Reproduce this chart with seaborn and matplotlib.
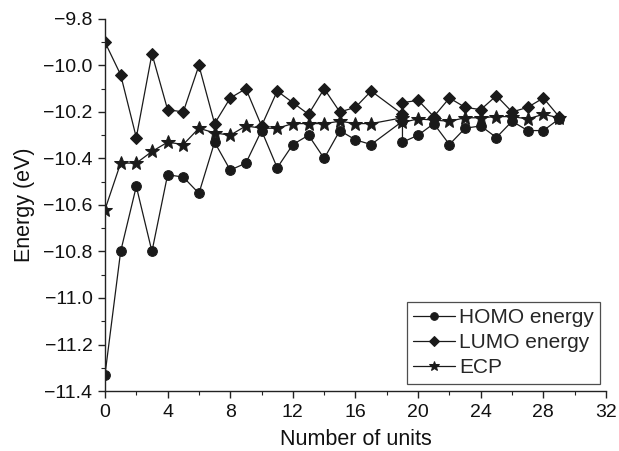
import matplotlib
matplotlib.use("Agg")
import matplotlib.pyplot as plt
import seaborn as sns
import pandas as pd
from matplotlib.ticker import MultipleLocator, FuncFormatter

units = [0, 1, 2, 3, 4, 5, 6, 7, 8, 9, 10, 11, 12, 13, 14, 15, 16, 17,
         19, 19, 20, 21, 22, 23, 24, 25, 26, 27, 28, 29]
homo = [-11.33, -10.80, -10.52, -10.80, -10.47, -10.48, -10.55, -10.33, -10.45, -10.42,
        -10.28, -10.44, -10.34, -10.30, -10.40, -10.28, -10.32, -10.34,
        -10.24, -10.33, -10.30, -10.25, -10.34, -10.27, -10.26, -10.31, -10.24, -10.28, -10.28, -10.23]
lumo = [-9.90, -10.04, -10.31, -9.95, -10.19, -10.20, -10.00, -10.25, -10.14, -10.10,
        -10.26, -10.11, -10.16, -10.21, -10.10, -10.20, -10.18, -10.11,
        -10.21, -10.16, -10.15, -10.22, -10.14, -10.18, -10.19, -10.13, -10.20, -10.18, -10.14, -10.22]
ecp = [-10.62, -10.42, -10.42, -10.37, -10.33, -10.34, -10.27, -10.29, -10.30, -10.26,
       -10.27, -10.27, -10.25, -10.25, -10.25, -10.24, -10.25, -10.25,
       -10.225, -10.245, -10.23, -10.235, -10.24, -10.225, -10.225, -10.22, -10.22, -10.23, -10.21, -10.225]

series_names = ["HOMO energy", "LUMO energy", "ECP"]
series_vals = [homo, lumo, ecp]
markers = ["o", "D", "*"]
msizes = [7, 6.5, 10]

sns.set_style("ticks")
plt.rcParams["font.family"] = ["Liberation Sans", "DejaVu Sans"]

fig = plt.figure(figsize=(6.19, 4.51), dpi=100)
ax = fig.add_axes([0.1696, 0.133, 0.979 - 0.1696, 0.958 - 0.133])

color = "#1a1a1a"
for name, vals, m, ms in zip(series_names, series_vals, markers, msizes):
    df = pd.DataFrame({"units": units, "energy": vals})
    sns.lineplot(data=df, x="units", y="energy", ax=ax, estimator=None, sort=False,
                 color=color, linewidth=0.9, marker=m, markersize=ms,
                 markeredgecolor=color, markerfacecolor=color, label=name)

ax.set_xlim(0, 32)
ax.set_ylim(-11.4, -9.8)
ax.xaxis.set_major_locator(MultipleLocator(4))
ax.xaxis.set_minor_locator(MultipleLocator(2))
ax.yaxis.set_major_locator(MultipleLocator(0.2))
ax.yaxis.set_minor_locator(MultipleLocator(0.1))
ax.yaxis.set_major_formatter(FuncFormatter(lambda v, p: f"{v:.1f}".replace("-", "\u2212")))
ax.tick_params(axis="both", which="major", direction="out", length=5, width=1,
               labelsize=14, color="#222222", labelcolor="#111111", pad=4)
ax.tick_params(axis="both", which="minor", direction="out", length=3, width=0.8,
               color="#222222")
for s in ["top", "right"]:
    ax.spines[s].set_visible(False)
for s in ["left", "bottom"]:
    ax.spines[s].set_linewidth(1.0)
    ax.spines[s].set_color("#222222")

ax.set_xlabel("Number of units", fontsize=15.5, color="#111111", labelpad=6)
ax.set_ylabel("Energy (eV)", fontsize=15.5, color="#111111", labelpad=6)

leg = ax.legend(loc="lower right", bbox_to_anchor=(0.988, 0.02), frameon=True,
                fancybox=False, edgecolor="#222222", fontsize=15,
                handlelength=2.0, handletextpad=0.2, borderpad=0.3,
                labelspacing=0.3, borderaxespad=0)
leg.get_frame().set_linewidth(0.9)
for h, ms in zip(leg.legend_handles, [5.5, 5.5, 7.5]):
    h.set_markersize(ms)

fig.savefig("out.png", dpi=100)
